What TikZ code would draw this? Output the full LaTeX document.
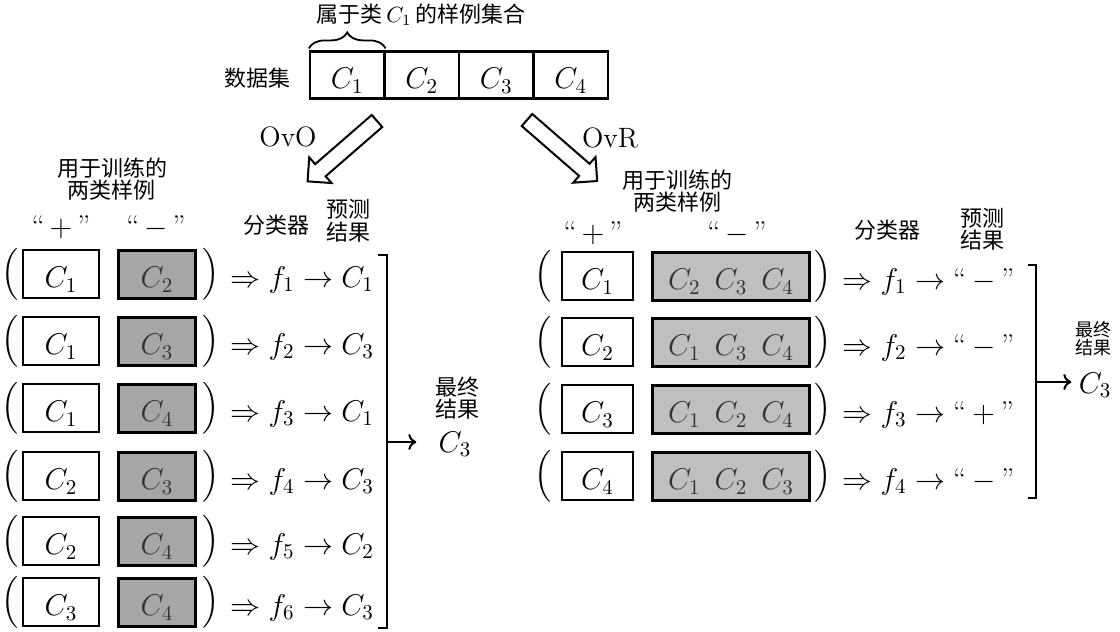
\RequirePackage{fix-cm}
\documentclass[tikz,border=0pt]{standalone}
\usepackage{amsmath}
\usepackage{fontspec}
\newfontfamily\cjk{Noto Sans CJK SC}
\usetikzlibrary{arrows.meta}
\usetikzlibrary{decorations.pathreplacing}
\usetikzlibrary{calc}
\tikzset{l/.style={font=\fontsize{15}{18}\selectfont}}
\tikzset{m/.style={font=\cjk\fontsize{11}{11}\selectfont}}
\tikzset{s/.style={font=\cjk\fontsize{9}{9}\selectfont}}
\tikzset{o/.style={font=\fontsize{14}{14}\selectfont}}
\tikzset{cbox/.style={draw, line width=1.1pt, inner sep=0pt, minimum height=24pt, text height=15pt, text depth=1.5pt, l}}
\tikzset{gbox/.style={cbox, line width=1.5pt, fill=black!35, text=black!80}}
\tikzset{hbox/.style={gbox, fill=black!25}}
\tikzset{fat/.style={draw, line width=1pt, fill=white, line join=miter}}
\tikzset{brk/.style={line width=1pt}}
\begin{document}
\begin{tikzpicture}[x=0.5pt, y=-0.5pt]
  \useasboundingbox (0,0) rectangle (1120,632);
  % data set
  \node[m] (top) at (421,15) {属于类\,$C_1$\,的样例集合};
  \node[m] (ds) at (257,78) {数据集};
  \foreach \i in {1,...,4}
    \node[cbox, minimum width=37.25pt, minimum height=23.5pt] (d\i) at ({310+74.5*(\i-0.5)},75) {$C_\i$};
  \draw[decorate, decoration={brace, amplitude=8pt}, line width=0.9pt] ([yshift=1pt]d1.north west) -- ([yshift=1pt]d1.north east);
  % the two ways
  \coordinate (ovo) at (377,121);
  \coordinate (ovr) at (527,120);
  \draw[fat, shift={(ovo)}, rotate=221] (0,-8) -- (75,-8) -- (75,-17) -- (92,0) -- (75,17) -- (75,8) -- (0,8) -- cycle;
  \draw[fat, shift={(ovr)}, rotate=319] (0,-8) -- (76,-8) -- (76,-17) -- (93,0) -- (76,17) -- (76,8) -- (0,8) -- cycle;
  \node[o] (ovol) at (288,137) {OvO};
  \node[o] (ovrl) at (610,138) {OvR};
  % OvO
  \node[m, align=center] (lhead) at (112,179) {用于训练的\\两类样例};
  \node[l] (lplus) at (61,227) {``\hspace{2.5pt}$+$\hspace{2.5pt}''};
  \node[l] (lminus) at (156,227) {``\hspace{2.5pt}$-$\hspace{2.5pt}''};
  \node[m] (lclf) at (276,225) {分类器};
  \node[m, align=center, font=\cjk\fontsize{11}{11.5}\selectfont] (lpred) at (348,221) {预测\\结果};
  \foreach \y/\p/\n/\r [count=\k] in {274/1/2/1, 341/1/3/3, 408/1/4/1, 476/2/3/3, 541/2/4/2, 602/3/4/3} {
    \node[l] (lpl\k) at (10,\y) {$\Big($};
    \node[cbox, minimum width=38pt] (lp\k) at (61,\y) {$C_\p$};
    \node[gbox, minimum width=38.5pt] (ln\k) at (157,\y) {$C_\n$};
    \node[l] (lpr\k) at (211,\y) {$\Big)$};
    \node[l, anchor=base west, inner sep=0pt] (lf\k) at (230,{\y+13}) {$\Rightarrow f_\k \rightarrow C_\r$};
  }
  \draw[brk] (378,255) -- (387,255) -- (387,628) -- (378,628);
  \coordinate (lmid) at (387,442);
  \node[l, inner sep=0pt] (lres) at (455,444) {$C_3$};
  \draw[brk, -{To[length=4pt, width=8pt]}, shorten >=11pt] (lmid) -- (lmid -| lres.west);
  \node[m, align=center, font=\cjk\fontsize{11}{10}\selectfont] (lfin) at (457,398) {最终\\结果};
  % OvR
  \node[m, align=center] (rhead) at (677,191) {用于训练的\\两类样例};
  \node[l] (rplus) at (593,233) {``\hspace{2.5pt}$+$\hspace{2.5pt}''};
  \node[l] (rminus) at (737,233) {``\hspace{2.5pt}$-$\hspace{2.5pt}''};
  \node[m] (rclf) at (887,230) {分类器};
  \node[m, align=center] (rpred) at (982,229) {预测\\结果};
  \foreach \y/\p/\n/\r [count=\k] in {276/1/{C_2\hspace{7pt}C_3\hspace{7pt}C_4}/-, 342/2/{C_1\hspace{7pt}C_3\hspace{7pt}C_4}/-, 409/3/{C_1\hspace{7pt}C_2\hspace{7pt}C_4}/+, 476/4/{C_1\hspace{7pt}C_2\hspace{7pt}C_3}/-} {
    \node[l] (rpl\k) at (543,\y) {$\Big($};
    \node[cbox, minimum width=35.5pt] (rp\k) at (597.5,\y) {$C_\p$};
    \node[hbox, minimum width=78.5pt] (rn\k) at (731,\y) {$\n$};
    \node[l] (rpr\k) at (823,\y) {$\Big)$};
    \node[l, anchor=base west, inner sep=0pt] (rf\k) at (842,{\y+13}) {$\Rightarrow f_\k \rightarrow$\hspace{4pt}``\hspace{3pt}$\r$\hspace{3pt}''};
  }
  \draw[brk] (1028,265) -- (1036,265) -- (1036,498) -- (1028,498);
  \coordinate (rmid) at (1036,382);
  \node[l, inner sep=0pt] (rres) at (1095,385) {$C_3$};
  \draw[brk, -{To[length=4pt, width=8pt]}, shorten >=3.5pt] (rmid) -- (rmid -| rres.west);
  \node[s, align=center] (rfin) at (1093,339) {最终\\结果};
\end{tikzpicture}
\end{document}
